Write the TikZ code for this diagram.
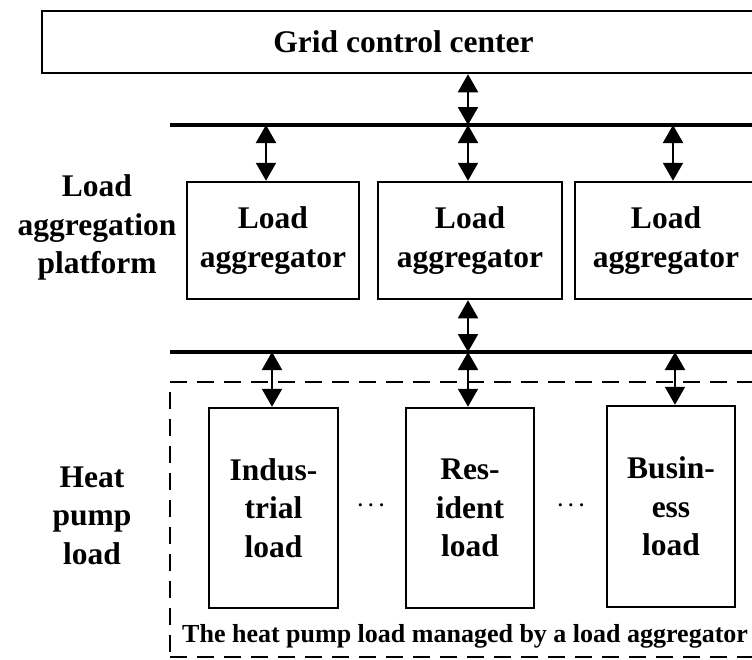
\documentclass[tikz,border=0pt]{standalone}
\usepackage{fontspec}
\setmainfont{Liberation Serif}
\usetikzlibrary{arrows.meta}

\tikzset{
  lbl/.style={font=\bfseries\fontsize{31.5}{38.5}\selectfont, align=center, inner sep=0pt},
  unit/.style={lbl, draw, line width=2.5pt},
  bus/.style={line width=4pt},
  biarrow/.style={line width=2pt,
    {Triangle[width=20pt,length=18pt]}-{Triangle[width=20pt,length=18pt]}},
  grouping/.style={draw, line width=2.5pt, dash pattern=on 17pt off 10pt},
  dots/.style={font=\boldmath\fontsize{20}{24}\selectfont, inner sep=0pt}
}

\begin{document}
\begin{tikzpicture}[x=1pt, y=-1pt]
  \useasboundingbox (0,0) rectangle (752,659);
  \clip (0,0) rectangle (752,659);

  % top level
  \node[unit, minimum width=723pt, minimum height=62pt] (grid) at (403.5,42) {Grid control center};

  % buses
  \coordinate (bus1W) at (170,125);
  \coordinate (bus1E) at (770,125);
  \coordinate (bus2W) at (170,352);
  \coordinate (bus2E) at (770,352);
  \draw[bus] (bus1W) -- (bus1E);
  \draw[bus] (bus2W) -- (bus2E);

  % aggregation platform
  \node[lbl] (platform) at (97,227.7) {Load\\aggregation\\platform};
  \node[unit, minimum width=172pt, minimum height=117pt] (agg1) at (273,240.5) {Load\\aggregator};
  \node[unit, minimum width=184pt, minimum height=117pt] (agg2) at (470,240.5) {Load\\aggregator};
  \node[unit, minimum width=182pt, minimum height=117pt] (agg3) at (666,240.5) {Load\\aggregator};

  % heat pump loads
  \node[grouping, minimum width=600pt, minimum height=275pt] (group) at (470,519.5) {};
  \node[lbl] (hpl) at (92,515.8) {Heat\\pump\\load};
  \node[unit, minimum width=129pt, minimum height=200pt] (ind) at (273.5,508) {Indus-\\trial\\load};
  \node[unit, minimum width=128pt, minimum height=200pt] (res) at (470,508) {Res-\\ident\\load};
  \node[unit, minimum width=128pt, minimum height=201pt] (bsn) at (671,506.5) {Busin-\\ess\\load};
  \node[dots] (d1) at (371,506) {$\cdots$};
  \node[dots] (d2) at (571,506) {$\cdots$};
  \node[font=\bfseries\fontsize{26}{30}\selectfont, inner sep=0pt, anchor=base west] (caption) at (182,642)
    {The heat pump load managed by a load aggregator};

  % taps on the buses
  \coordinate (t0) at (468,125);
  \coordinate (t1) at (266,125);
  \coordinate (t2) at (468,125);
  \coordinate (t3) at (673,125);
  \coordinate (t4) at (468,352);
  \coordinate (t5) at (272,352);
  \coordinate (t6) at (468,352);
  \coordinate (t7) at (675,352);

  % bidirectional links
  \draw[biarrow] (t0 |- grid.south) -- (t0);
  \draw[biarrow] (t1) -- (t1 |- agg1.north);
  \draw[biarrow] (t2) -- (t2 |- agg2.north);
  \draw[biarrow] (t3) -- (t3 |- agg3.north);
  \draw[biarrow] (t4 |- agg2.south) -- (t4);
  \draw[biarrow] (t5) -- (t5 |- ind.north);
  \draw[biarrow] (t6) -- (t6 |- res.north);
  \draw[biarrow] (t7) -- (t7 |- bsn.north);
\end{tikzpicture}
\end{document}
